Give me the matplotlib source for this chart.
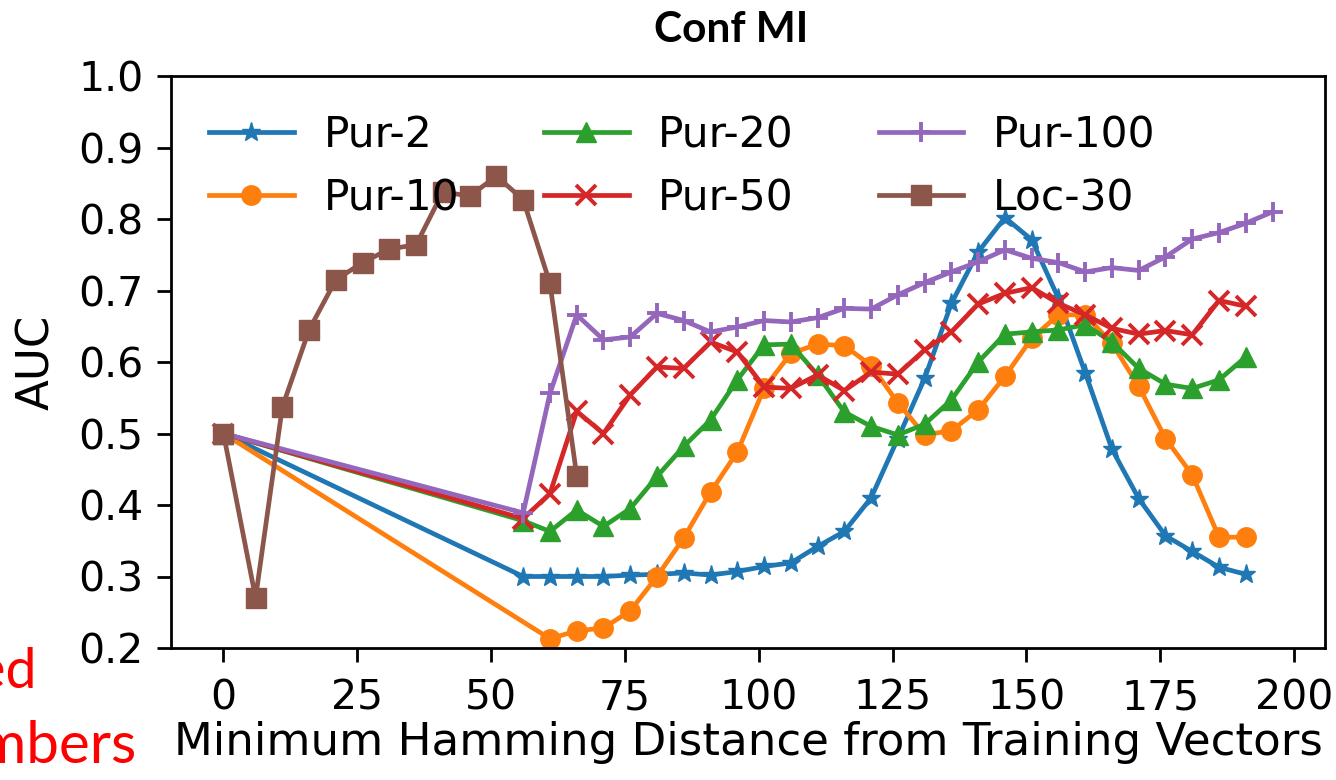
import matplotlib
matplotlib.use("Agg")
import matplotlib.pyplot as plt

plt.rcParams['font.family'] = ['DejaVu Sans']

x_pur = [0, 56, 61, 66, 71, 76, 81, 86, 91, 96, 101, 106, 111, 116, 121, 126, 131,
         136, 141, 146, 151, 156, 161, 166, 171, 176, 181, 186, 191]
x_pur10 = [0, 61, 66, 71, 76, 81, 86, 91, 96, 101, 106, 111, 116, 121, 126, 131,
           136, 141, 146, 151, 156, 161, 166, 171, 176, 181, 186, 191]
x_pur100 = x_pur + [196]
x_loc = [0, 6, 11, 16, 21, 26, 31, 36, 41, 46, 51, 56, 61, 66]

pur2 = [0.5, 0.300, 0.300, 0.300, 0.300, 0.302, 0.303, 0.305, 0.302, 0.307, 0.314, 0.319,
        0.342, 0.363, 0.410, 0.493, 0.577, 0.682, 0.754, 0.802, 0.771, 0.689, 0.585,
        0.478, 0.409, 0.357, 0.335, 0.313, 0.303]
pur10 = [0.5, 0.213, 0.224, 0.228, 0.252, 0.300, 0.354, 0.418, 0.474, 0.563, 0.612,
         0.625, 0.623, 0.595, 0.543, 0.498, 0.504, 0.533, 0.580, 0.633, 0.666, 0.666,
         0.626, 0.566, 0.493, 0.442, 0.355, 0.355]
pur20 = [0.5, 0.378, 0.363, 0.393, 0.370, 0.395, 0.440, 0.482, 0.519, 0.575, 0.624,
         0.625, 0.582, 0.530, 0.510, 0.498, 0.513, 0.547, 0.600, 0.639, 0.642, 0.645,
         0.652, 0.628, 0.591, 0.569, 0.563, 0.575, 0.607]
pur50 = [0.5, 0.381, 0.416, 0.531, 0.500, 0.554, 0.593, 0.591, 0.628, 0.614, 0.565,
         0.563, 0.582, 0.560, 0.586, 0.583, 0.617, 0.642, 0.681, 0.696, 0.704, 0.682,
         0.666, 0.647, 0.639, 0.644, 0.638, 0.686, 0.678]
pur100 = [0.5, 0.389, 0.556, 0.666, 0.631, 0.635, 0.668, 0.658, 0.642, 0.649, 0.658,
          0.656, 0.662, 0.675, 0.674, 0.694, 0.711, 0.726, 0.740, 0.757, 0.745, 0.739,
          0.726, 0.732, 0.728, 0.747, 0.772, 0.781, 0.794, 0.810]
loc30 = [0.5, 0.270, 0.537, 0.645, 0.715, 0.739, 0.758, 0.764, 0.838, 0.832, 0.860,
         0.827, 0.710, 0.441]

xticks = [0, 25, 50, 75, 100, 125, 150, 175, 200]
yticks = [0.2, 0.3, 0.4, 0.5, 0.6, 0.7, 0.8, 0.9, 1.0]

fig = plt.figure(figsize=(13.36, 7.8), dpi=100)
ax = fig.add_axes([171/1336, 1 - 648/780, (1325-171)/1336, (648-76)/780])

lw = 3.4
ms = 14
ax.plot(x_pur, pur2, color='#1f77b4', marker='*', lw=lw, ms=ms, label='Pur-2')
ax.plot(x_pur10, pur10, color='#ff7f0e', marker='o', lw=lw, ms=ms, label='Pur-10')
ax.plot(x_pur, pur20, color='#2ca02c', marker='^', lw=lw, ms=ms, label='Pur-20')
ax.plot(x_pur, pur50, color='#d62728', marker='x', lw=lw, ms=ms, mew=2.8, label='Pur-50')
ax.plot(x_pur100, pur100, color='#9467bd', marker='+', lw=lw, ms=ms, mew=2.8, label='Pur-100')
ax.plot(x_loc, loc30, color='#8c564b', marker='s', lw=lw, ms=ms, label='Loc-30')

ax.set_ylim(0.2, 1.0)
ax.set_xticks(xticks)
ax.set_yticks(yticks)
ax.set_yticklabels([f"{v:.1f}" for v in yticks])
ax.tick_params(labelsize=29.5, length=10, width=2)
ax.tick_params(axis='x', pad=12)
ax.tick_params(axis='y', pad=10)
for s in ax.spines.values():
    s.set_linewidth(2)
ax.set_xlabel('Minimum Hamming Distance from Training Vectors', fontsize=32.5, labelpad=2)
ax.set_ylabel('AUC', fontsize=32.5)
ax.yaxis.set_label_coords(-0.098, 0.5)
fig.text(731/1336, 1 - 30/780, 'Conf MI', fontsize=30.5, fontweight='bold', family='Lato',
         ha='center', va='center')

ax.legend(ncol=3, loc='upper left', frameon=False, fontsize=30.5, handlelength=2.0,
          handletextpad=0.7, columnspacing=2.0)

fig.text(37/1336, 1 - 688/780, 'Fixed', color='red', fontsize=40, family='Lato',
         ha='right', va='baseline')
fig.text(137/1336, 1 - 763/780, 'Numbers', color='red', fontsize=42, family='Lato',
         ha='right', va='baseline')

fig.savefig('out.png', dpi=100)
